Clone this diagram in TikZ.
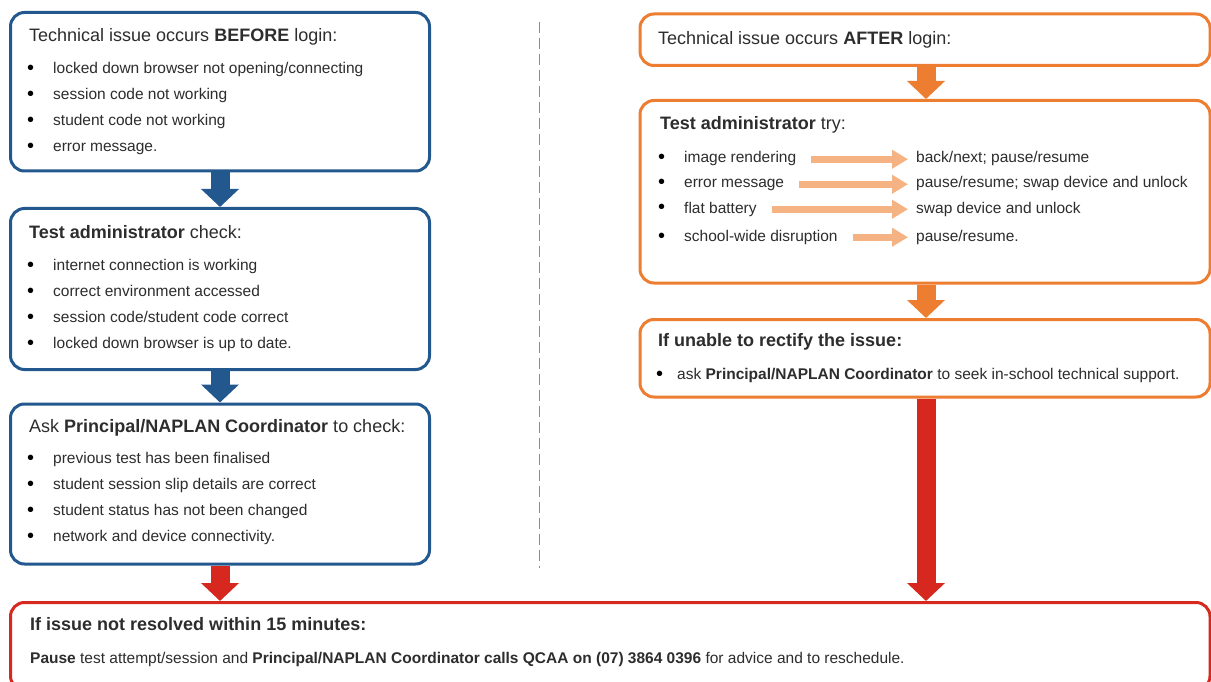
\documentclass[tikz,border=0pt]{standalone}
\usepackage{fontspec}
\setmainfont{Liberation Sans}
\usetikzlibrary{arrows.meta,calc}
\definecolor{cblue}{RGB}{35,88,142}
\definecolor{corange}{RGB}{237,125,49}
\definecolor{cred}{RGB}{214,40,30}
\definecolor{clight}{RGB}{245,178,130}
\definecolor{cgray}{RGB}{140,140,140}
\definecolor{ctext}{RGB}{45,45,45}
\begin{document}
\begin{tikzpicture}[x=1pt,y=-1pt,
  box/.style={draw, line width=3pt, rounded corners=14pt, fill=white, inner sep=0pt},
  ttl/.style={anchor=base west, inner sep=0pt, font=\fontsize{18}{21}\selectfont, text=ctext},
  txt/.style={anchor=base west, inner sep=0pt, font=\fontsize{15.5}{18}\selectfont, text=ctext, text height=11pt, text depth=3.5pt},
  bul/.style={anchor=base west, inner sep=0pt, font=\fontsize{20}{22}\selectfont, text=black},
  blk/.style={line width=19pt, -{Triangle[width=37pt,length=18pt]}},
  thinarrow/.style={draw=clight, line width=7pt, -{Triangle[width=18pt,length=16pt]}, shorten >=8pt, shorten <=15pt}
]
\fill[white] (0,0) rectangle (1211,682);
\useasboundingbox (0,0) rectangle (1211,682);
\clip (0,0) rectangle (1211,682);

% left column boxes
\node[box, draw=cblue, minimum width=419pt, minimum height=158.5pt] (b1) at (220,91.75) {};
\node[box, draw=cblue, minimum width=419pt, minimum height=161pt] (b2) at (220,289) {};
\node[box, draw=cblue, minimum width=419pt, minimum height=160pt] (b3) at (220,484) {};
% right column boxes
\node[box, draw=corange, minimum width=570pt, minimum height=51.5pt] (bA) at (925,39.75) {};
\node[box, draw=corange, minimum width=570pt, minimum height=182.5pt] (bB) at (925,191.75) {};
\node[box, draw=corange, minimum width=570pt, minimum height=77.5pt] (bC) at (925,358.25) {};
% bottom box (runs past the lower edge)
\node[box, draw=cred, minimum width=1199.5pt, minimum height=87.5pt] (bR) at (610.25,646.25) {};

% separator
\coordinate (d1) at (539.5,22);
\coordinate (d2) at (539.5,568);
\draw[cgray, line width=1.5pt, dash pattern=on 11pt off 5pt] (d1) -- (d2);

% block arrows
\draw[blk, cblue] (b1.south) -- (b2.north);
\draw[blk, cblue] (b2.south) -- (b3.north);
\draw[blk, cred] (b3.south) -- (b3.south |- bR.north);
\draw[blk, corange] ($(bA.south)+(1,0)$) -- ($(bB.north)+(1,0)$);
\draw[blk, corange] ($(bB.south)+(1,0)$) -- ($(bC.north)+(1,0)$);
\draw[blk, cred] ($(bC.south)+(1,0)$) -- ($(bC.south |- bR.north)+(1,0)$);

% box 1
\node[ttl] (t1) at (29,42) {Technical issue occurs \textbf{BEFORE} login:};
\node[bul] (p11) at (27,75) {•};  \node[txt] (s11) at (53,74) {locked down browser not opening/connecting};
\node[bul] (p12) at (27,101) {•}; \node[txt] (s12) at (53,100) {session code not working};
\node[bul] (p13) at (27,127) {•}; \node[txt] (s13) at (53,126) {student code not working};
\node[bul] (p14) at (27,153) {•}; \node[txt] (s14) at (53,152) {error message.};

% box 2
\node[ttl] (t2) at (29,238) {\textbf{Test administrator} check:};
\node[bul] (p21) at (27,271) {•}; \node[txt] (s21) at (53,270) {internet connection is working};
\node[bul] (p22) at (27,297) {•}; \node[txt] (s22) at (53,296) {correct environment accessed};
\node[bul] (p23) at (27,323) {•}; \node[txt] (s23) at (53,322) {session code/student code correct};
\node[bul] (p24) at (27,349) {•}; \node[txt] (s24) at (53,348) {locked down browser is up to date.};

% box 3
\node[ttl] (t3) at (29,432) {Ask \textbf{Principal/NAPLAN Coordinator} to check:};
\node[bul] (p31) at (27,464) {•}; \node[txt] (s31) at (53,463) {previous test has been finalised};
\node[bul] (p32) at (27,490) {•}; \node[txt] (s32) at (53,489) {student session slip details are correct};
\node[bul] (p33) at (27,516) {•}; \node[txt] (s33) at (53,515) {student status has not been changed};
\node[bul] (p34) at (27,542) {•}; \node[txt] (s34) at (53,541) {network and device connectivity.};

% box A
\node[ttl] (tA) at (658,45) {Technical issue occurs \textbf{AFTER} login:};

% box B
\node[ttl] (tB) at (660,130) {\textbf{Test administrator} try:};
\node[bul] (pB1) at (658,164) {•}; \node[txt] (l1) at (684,163) {image rendering};
\node[bul] (pB2) at (658,189) {•}; \node[txt] (l2) at (684,188) {error message};
\node[bul] (pB3) at (658,214) {•}; \node[txt] (l3) at (684,213) {flat battery};
\node[bul] (pB4) at (658,242) {•}; \node[txt] (l4) at (684,241) {school-wide disruption};
\node[txt] (r1) at (916,163) {back/next; pause/resume};
\node[txt] (r2) at (916,188) {pause/resume; swap device and unlock};
\node[txt] (r3) at (916,213) {swap device and unlock};
\node[txt] (r4) at (916,241) {pause/resume.};
\draw[thinarrow] (l1.east) -- (r1.west);
\draw[thinarrow] (l2.east) -- (r2.west);
\draw[thinarrow] (l3.east) -- (r3.west);
\draw[thinarrow] (l4.east) -- (r4.west);

% box C
\node[ttl] (tC) at (658,346) {\textbf{If unable to rectify the issue:}};
\node[bul] (pC1) at (656,380) {•}; \node[txt] (sC1) at (677,379) {ask \textbf{Principal/NAPLAN Coordinator} to seek in-school technical support.};

% bottom box
\node[ttl] (tR) at (30,630) {\textbf{If issue not resolved within 15 minutes:}};
\node[txt] (sR) at (30,663) {\textbf{Pause} test attempt/session and \textbf{Principal/NAPLAN Coordinator calls QCAA on (07) 3864 0396} for advice and to reschedule.};
\end{tikzpicture}
\end{document}
